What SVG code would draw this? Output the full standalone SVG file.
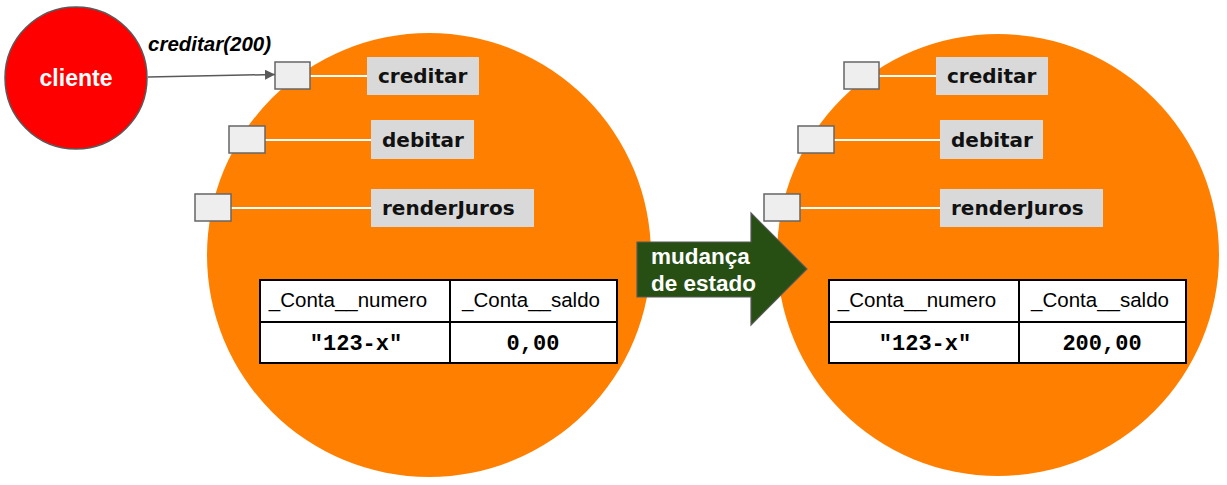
<svg xmlns="http://www.w3.org/2000/svg" width="1227" height="485" viewBox="0 0 1227 485">
<defs>
<style>
.obj{fill:#ff8000;}
.port{fill:#eeeeee;stroke:#666666;stroke-width:1.5;}
.lbl{fill:#d9d9d9;}
.wire{stroke:#ffffff;stroke-width:2;}
.m{font-family:"DejaVu Sans",sans-serif;font-weight:bold;font-size:20px;fill:#111111;}
.h{font-family:"Liberation Sans",Arial,sans-serif;font-size:20.5px;fill:#000;text-anchor:middle;}
.v{font-family:"Liberation Mono","Courier New",monospace;font-weight:bold;font-size:22px;fill:#000;text-anchor:middle;}
.cell{fill:#ffffff;stroke:#000000;stroke-width:2;}
</style>
<marker id="ah" viewBox="0 0 10 10" refX="10" refY="5" markerWidth="10" markerHeight="10" markerUnits="userSpaceOnUse" orient="auto"><path d="M0,0 L10,5 L0,10 z" fill="#595959"/></marker>
</defs>
<rect width="1227" height="485" fill="#ffffff"/>

<g id="obj-antes">
<circle class="obj" cx="429" cy="255" r="222"/>
<line class="wire" x1="310" y1="76" x2="367" y2="76"/>
<line class="wire" x1="265" y1="140" x2="371" y2="140"/>
<line class="wire" x1="231" y1="208" x2="371" y2="208"/>
<rect class="port" x="275" y="62" width="35" height="27"/>
<rect class="port" x="229" y="126" width="36" height="27"/>
<rect class="port" x="195" y="194" width="36" height="27"/>
<rect class="lbl" x="367" y="57" width="112" height="38"/>
<rect class="lbl" x="371" y="120" width="103" height="39"/>
<rect class="lbl" x="371" y="189" width="163" height="38"/>
<text class="m" x="378" y="83">creditar</text>
<text class="m" x="382" y="147">debitar</text>
<text class="m" x="382" y="215">renderJuros</text>
<rect class="cell" x="260" y="280" width="190" height="42"/>
<rect class="cell" x="450" y="280" width="167" height="42"/>
<rect class="cell" x="260" y="322" width="190" height="41"/>
<rect class="cell" x="450" y="322" width="167" height="41"/>
<text class="h" x="348" y="307">_Conta__numero</text>
<text class="h" x="531" y="307">_Conta__saldo</text>
<text class="v" x="356" y="350">"123-x"</text>
<text class="v" x="533" y="350">0,00</text>
</g>

<g id="obj-depois">
<circle class="obj" cx="998" cy="255" r="221"/>
<line class="wire" x1="879" y1="76" x2="936" y2="76"/>
<line class="wire" x1="834" y1="140" x2="940" y2="140"/>
<line class="wire" x1="800" y1="208" x2="940" y2="208"/>
<rect class="port" x="844" y="62" width="35" height="27"/>
<rect class="port" x="798" y="126" width="36" height="27"/>
<rect class="port" x="764" y="194" width="36" height="27"/>
<rect class="lbl" x="936" y="57" width="112" height="38"/>
<rect class="lbl" x="940" y="120" width="103" height="39"/>
<rect class="lbl" x="940" y="189" width="163" height="38"/>
<text class="m" x="947" y="83">creditar</text>
<text class="m" x="951" y="147">debitar</text>
<text class="m" x="951" y="215">renderJuros</text>
<rect class="cell" x="829" y="280" width="190" height="42"/>
<rect class="cell" x="1019" y="280" width="167" height="42"/>
<rect class="cell" x="829" y="322" width="190" height="41"/>
<rect class="cell" x="1019" y="322" width="167" height="41"/>
<text class="h" x="917" y="307">_Conta__numero</text>
<text class="h" x="1100" y="307">_Conta__saldo</text>
<text class="v" x="925" y="350">"123-x"</text>
<text class="v" x="1102" y="350">200,00</text>
</g>

<g id="mudanca">
<path d="M637,242 L751,242 L751,213 L807,269 L751,325 L751,297 L637,297 Z" fill="#274e13" stroke="#595959" stroke-width="1.2"/>
<text font-family="Liberation Sans,Arial,sans-serif" font-weight="bold" font-size="22.5" fill="#ffffff"><tspan x="651" y="264">mudança</tspan><tspan x="651" y="291">de estado</tspan></text>
</g>

<g id="cliente">
<circle cx="76" cy="78" r="71" fill="#ff0000" stroke="#595959" stroke-width="1.5"/>
<text x="76" y="86" text-anchor="middle" font-family="Liberation Sans,Arial,sans-serif" font-weight="bold" font-size="23" fill="#ffffff">cliente</text>
</g>

<g id="connectors">
<line x1="148" y1="77" x2="275" y2="74.5" stroke="#595959" stroke-width="1.5" marker-end="url(#ah)"/>
<text x="148" y="51" font-family="Liberation Sans,Arial,sans-serif" font-weight="bold" font-style="italic" font-size="20.5" fill="#000">creditar(200)</text>
</g>
</svg>
